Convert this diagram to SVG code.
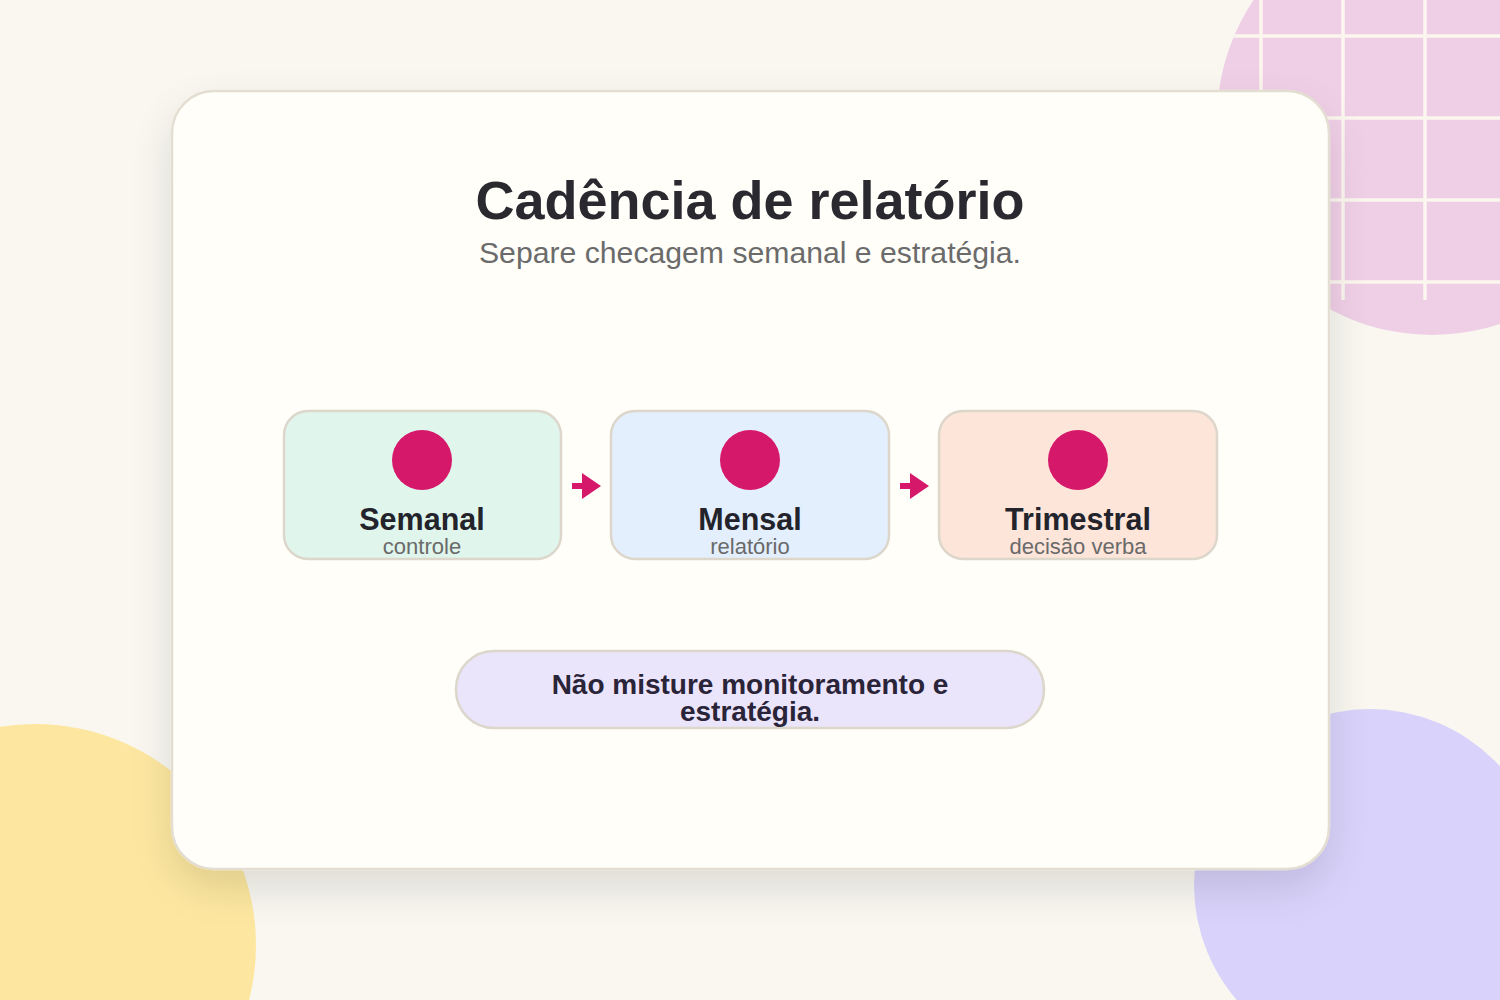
<svg xmlns="http://www.w3.org/2000/svg" width="1500" height="1000" viewBox="0 0 1500 1000">
  <style>
    .node-box { stroke: #dcd6cb; stroke-width: 2.5; }
    .dot { fill: #d6186b; }
    .node-title { font-family: "Liberation Sans", Arial, sans-serif; font-weight: bold; font-size: 30.5px; fill: #23232b; text-anchor: middle; }
    .node-sub { font-family: "Liberation Sans", Arial, sans-serif; font-size: 22px; fill: #6a6a6a; text-anchor: middle; }
    .title { font-family: "Liberation Sans", Arial, sans-serif; font-weight: bold; font-size: 54px; fill: #2a2930; text-anchor: middle; }
    .subtitle { font-family: "Liberation Sans", Arial, sans-serif; font-size: 30.2px; fill: #6b6b6b; text-anchor: middle; }
    .note { font-family: "Liberation Sans", Arial, sans-serif; font-weight: bold; font-size: 28px; fill: #2a2438; text-anchor: middle; }
    .grid line { stroke: #fbf6ee; stroke-width: 3.5; }
    .arrow { fill: #d6186b; }
  </style>
  <defs>
    <clipPath id="pinkClip">
      <circle cx="1432" cy="120" r="215"/>
    </clipPath>
    <filter id="cardShadow" x="-20%" y="-20%" width="140%" height="150%">
      <feGaussianBlur in="SourceAlpha" stdDeviation="22"/>
      <feOffset dy="18"/>
      <feComponentTransfer><feFuncA type="linear" slope="0.12"/></feComponentTransfer>
      <feMerge><feMergeNode/><feMergeNode in="SourceGraphic"/></feMerge>
    </filter>
  </defs>

  <rect x="0" y="0" width="1500" height="1000" fill="#f9f7f0"/>

  <g id="decor">
    <circle cx="1432" cy="120" r="215" fill="#efcfe6"/>
    <g class="grid" clip-path="url(#pinkClip)">
      <line x1="1261" y1="0" x2="1261" y2="300"/>
      <line x1="1343" y1="0" x2="1343" y2="300"/>
      <line x1="1425" y1="0" x2="1425" y2="300"/>
      <line x1="1507" y1="0" x2="1507" y2="300"/>
      <line x1="1200" y1="36" x2="1500" y2="36"/>
      <line x1="1200" y1="118" x2="1500" y2="118"/>
      <line x1="1200" y1="200" x2="1500" y2="200"/>
      <line x1="1200" y1="282" x2="1500" y2="282"/>
    </g>
    <circle cx="35" cy="945" r="221" fill="#fde7a0"/>
    <circle cx="1370" cy="885" r="176" fill="#d9d2fb"/>
  </g>

  <g id="card">
    <rect x="172" y="91" width="1157" height="778" rx="42" fill="#fffef9" stroke="#e3ded1" stroke-width="2.5" filter="url(#cardShadow)"/>
  </g>

  <g id="header">
    <text class="title" x="750" y="219">Cadência de relatório</text>
    <text class="subtitle" x="750" y="263">Separe checagem semanal e estratégia.</text>
  </g>

  <g id="connectors">
    <g class="arrow">
      <rect x="572" y="483" width="14" height="6"/>
      <polygon points="582,473 601,486 582,499"/>
    </g>
    <g class="arrow">
      <rect x="900" y="483" width="14" height="6"/>
      <polygon points="910,473 929,486 910,499"/>
    </g>
  </g>

  <g id="node-semanal">
    <rect class="node-box" x="284" y="411" width="277" height="148" rx="24" fill="#e0f5eb"/>
    <circle class="dot" cx="422" cy="460" r="30"/>
    <text class="node-title" x="422" y="530">Semanal</text>
    <text class="node-sub" x="422" y="554">controle</text>
  </g>

  <g id="node-mensal">
    <rect class="node-box" x="611" y="411" width="278" height="148" rx="24" fill="#e4effd"/>
    <circle class="dot" cx="750" cy="460" r="30"/>
    <text class="node-title" x="750" y="530">Mensal</text>
    <text class="node-sub" x="750" y="554">relatório</text>
  </g>

  <g id="node-trimestral">
    <rect class="node-box" x="939" y="411" width="278" height="148" rx="24" fill="#fde5da"/>
    <circle class="dot" cx="1078" cy="460" r="30"/>
    <text class="node-title" x="1078" y="530">Trimestral</text>
    <text class="node-sub" x="1078" y="554">decisão verba</text>
  </g>

  <g id="note">
    <rect class="node-box" x="456" y="651" width="588" height="77" rx="38" fill="#ebe5fc"/>
    <text class="note" x="750" y="694">Não misture monitoramento e</text>
    <text class="note" x="750" y="721">estratégia.</text>
  </g>
</svg>
